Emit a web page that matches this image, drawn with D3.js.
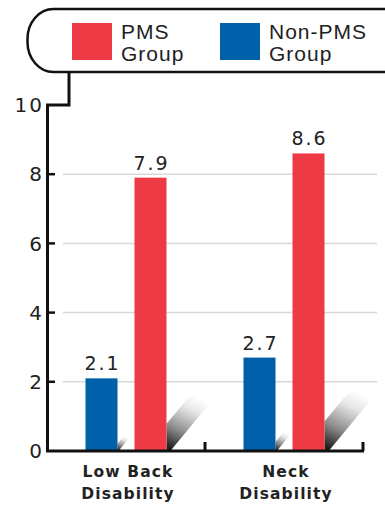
<!DOCTYPE html>
<html>
<head>
<meta charset="utf-8">
<script src="https://cdn.jsdelivr.net/npm/d3@7"></script>
<style>
  body { margin: 0; background: #fff; }
  svg { display: block; }
</style>
</head>
<body>
<div id="chart"></div>
<script>
// Data
const categories = [["Low Back", "Disability"], ["Neck", "Disability"]];
const categoryKeys = ["lowback", "neck"];
const seriesNames = ["Non-PMS", "PMS"];
const nonPmsValues = [2.1, 2.7];
const pmsValues = [7.9, 8.6];
const yTicks = [0, 2, 4, 6, 8, 10];
const legendItems = [["PMS", "Group"], ["Non-PMS", "Group"]];

const colors = { "PMS": "#ee3a44", "Non-PMS": "#005fa9" };

const width = 385, height = 507;

const svg = d3.select("#chart")
    .append("svg")
    .attr("width", width)
    .attr("height", height);

// Scales
const y = d3.scaleLinear().domain([0, 10]).range([451, 105]);
const x0 = d3.scaleBand().domain(categoryKeys).range([47, 363]);
const x1 = d3.scaleBand().domain(seriesNames).range([-40.5, 40.5]).paddingInner(0.347);

// Shadow gradient
const defs = svg.append("defs");
const grad = defs.append("linearGradient")
    .attr("id", "shadowGrad")
    .attr("x1", 0.15).attr("y1", 1)
    .attr("x2", 0.6).attr("y2", 0);
grad.append("stop").attr("offset", 0).attr("stop-color", "#1a1a1a");
grad.append("stop").attr("offset", 0.35).attr("stop-color", "#8c8c8c");
grad.append("stop").attr("offset", 0.75).attr("stop-color", "#e6e6e6");
grad.append("stop").attr("offset", 1).attr("stop-color", "#fff");

// Gridlines
svg.append("g")
    .selectAll("line")
    .data(yTicks.filter(d => d > 0 && d < 10))
    .enter()
    .append("line")
    .attr("x1", 63).attr("x2", 377)
    .attr("y1", d => y(d)).attr("y2", d => y(d))
    .attr("stroke", "#d8d8d8")
    .attr("stroke-width", 1.5);

// Build bar data
const barData = [];
categoryKeys.forEach((c, i) => {
    barData.push({ cat: c, series: "Non-PMS", value: nonPmsValues[i] });
    barData.push({ cat: c, series: "PMS", value: pmsValues[i] });
});
const barX = d => x0(d.cat) + x0.bandwidth() / 2 + x1(d.series);

// Shadows
svg.append("g")
    .selectAll("path")
    .data(barData)
    .enter()
    .append("path")
    .attr("d", d => {
        const xr = barX(d) + x1.bandwidth();
        const y0 = y(0);
        const h = y(0) - y(d.value * 0.2);
        return `M${xr},${y0} L${xr},${y0 - h * 0.5} L${xr + 0.42 * h},${y0 - h} L${xr + 0.9 * h},${y0 - h} L${xr + 0.07 * h},${y0} Z`;
    })
    .attr("fill", "url(#shadowGrad)");

// Bars
svg.append("g")
    .selectAll("rect")
    .data(barData)
    .enter()
    .append("rect")
    .attr("x", barX)
    .attr("width", x1.bandwidth())
    .attr("y", d => y(d.value))
    .attr("height", d => y(0) - y(d.value))
    .attr("fill", d => colors[d.series]);

// Value labels
svg.append("g")
    .selectAll("text")
    .data(barData)
    .enter()
    .append("text")
    .attr("x", d => barX(d) + x1.bandwidth() / 2 + 1)
    .attr("y", d => y(d.value) - 8)
    .attr("text-anchor", "middle")
    .attr("font-family", "DejaVu Sans, sans-serif")
    .attr("font-size", 19)
    .attr("letter-spacing", 2)
    .attr("fill", "#222")
    .text(d => d.value.toFixed(1));

// Y axis
const axis = svg.append("g");
axis.append("path")
    .attr("d", `M${47.5},${y(0)} L47.5,${y(10)} L69,${y(10)} L69,72`)
    .attr("fill", "none")
    .attr("stroke", "#111")
    .attr("stroke-width", 3);

axis.selectAll("line.tick")
    .data(yTicks.filter(d => d > 0 && d < 10))
    .enter()
    .append("line")
    .attr("class", "tick")
    .attr("x1", 47).attr("x2", 55)
    .attr("y1", d => y(d)).attr("y2", d => y(d))
    .attr("stroke", "#111")
    .attr("stroke-width", 2.5);

axis.selectAll("text")
    .data(yTicks)
    .enter()
    .append("text")
    .attr("x", 44)
    .attr("y", d => y(d))
    .attr("dy", "0.36em")
    .attr("text-anchor", "end")
    .attr("font-family", "DejaVu Sans, sans-serif")
    .attr("font-size", 20)
    .attr("letter-spacing", 2)
    .attr("fill", "#222")
    .text(d => d);

// X axis
const xAxis = svg.append("g");
xAxis.append("line")
    .attr("x1", 46).attr("x2", 364)
    .attr("y1", y(0)).attr("y2", y(0))
    .attr("stroke", "#111")
    .attr("stroke-width", 3);

xAxis.selectAll("line.tick")
    .data(categoryKeys)
    .enter()
    .append("line")
    .attr("class", "tick")
    .attr("x1", d => x0(d) + x0.bandwidth())
    .attr("x2", d => x0(d) + x0.bandwidth())
    .attr("y1", y(0)).attr("y2", y(0) - 9)
    .attr("stroke", "#111")
    .attr("stroke-width", 3);

const catLabels = xAxis.selectAll("text")
    .data(categoryKeys)
    .enter()
    .append("text")
    .attr("text-anchor", "middle")
    .attr("font-family", "DejaVu Sans, sans-serif")
    .attr("font-weight", "bold")
    .attr("font-size", 15.5)
    .attr("letter-spacing", 1.1)
    .attr("fill", "#222");

catLabels.selectAll("tspan")
    .data((d, i) => categories[i].map((t, j) => ({ t, j, cat: d })))
    .enter()
    .append("tspan")
    .attr("x", d => x0(d.cat) + x0.bandwidth() / 2 + 2)
    .attr("y", d => 477 + d.j * 22)
    .text(d => d.t);

// Legend
const legend = svg.append("g");
legend.append("rect")
    .attr("x", 27.5).attr("y", 9)
    .attr("width", 420).attr("height", 63)
    .attr("rx", 26).attr("ry", 30)
    .attr("fill", "#fff")
    .attr("stroke", "#111")
    .attr("stroke-width", 2.5);

const legendKeys = ["PMS", "Non-PMS"];
const legendX = d3.scalePoint().domain(legendKeys).range([72, 220]);

const li = legend.selectAll("g.item")
    .data(legendKeys)
    .enter()
    .append("g")
    .attr("class", "item")
    .attr("transform", d => `translate(${legendX(d)},0)`);

li.append("rect")
    .attr("x", 0).attr("y", 23)
    .attr("width", 40).attr("height", 37)
    .attr("fill", d => colors[d]);

li.append("text")
    .attr("font-family", "Liberation Sans, Arial, sans-serif")
    .attr("font-size", 21)
    .attr("letter-spacing", 1)
    .attr("fill", "#222")
    .selectAll("tspan")
    .data((d, i) => legendItems[i])
    .enter()
    .append("tspan")
    .attr("x", 49)
    .attr("y", (d, j) => 38.5 + j * 22.5)
    .text(d => d);
</script>
</body>
</html>
